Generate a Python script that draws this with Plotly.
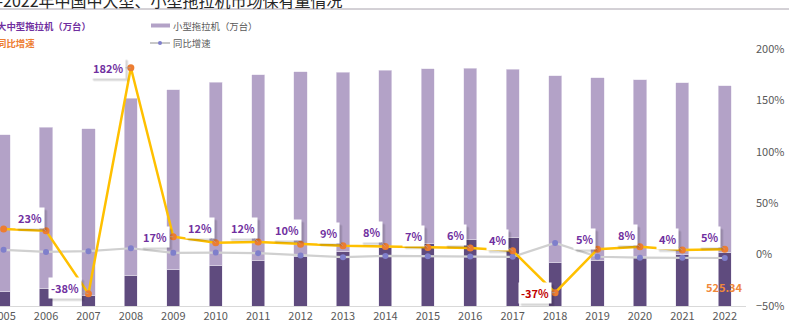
import plotly.graph_objects as go

years = [str(y) for y in range(2005, 2023)]
large_medium = [139.6, 171.8, 106.5, 300.4, 351.6, 392.4, 440.6, 485.2, 527.0,
                568.0, 607.3, 645.4, 670.1, 422.0, 443.9, 477.3, 498.1, 525.34]
small = [1524, 1567, 1617, 1721, 1750, 1786, 1808, 1795, 1748,
         1726, 1700, 1669, 1631, 1816, 1776, 1726, 1673, 1617]
growth_lm = [24.8, 23.1, -38.0, 181.7, 17.4, 11.6, 12.3, 10.1, 8.6,
             7.8, 6.9, 6.3, 3.8, -37.0, 5.2, 7.6, 4.4, 5.3]
growth_small = [4.6, 2.6, 3.3, 6.2, 1.7, 2.0, 1.4, -0.8, -2.5,
                -1.3, -1.5, -1.8, -2.2, 11.3, -2.1, -3.0, -3.0, -3.3]
# 2005 label lies outside the visible (cropped) area of the reference
growth_labels = [None, "23%", "-38%", "182%", "17%", "12%", "12%", "10%", "9%",
                 "8%", "7%", "6%", "4%", "-37%", "5%", "8%", "4%", "5%"]
label_dx = [0, -16, -23, -23, -18, -16, -15, -14, -14, -14, -14, -15, -15, -20, -13, -13, -15, -15]
label_dy = [0, -13, -6, 0, 0, -15, -14, -14, -13, -15, -12, -13, -11, 0, -10, -12, -11, -12]

FONT = "Noto Sans CJK SC, Noto Sans, sans-serif"
W, H = 789, 328
L, R, T, B = 0, 43, 49, 22
PW, PH = W - L - R, H - T - B


def px(xp):
    return (xp - L) / PW


def py(yp):
    return (H - B - yp) / PH


fig = go.Figure()
fig.add_trace(go.Bar(x=years, y=large_medium, name="大中型拖拉机（万台）",
                     marker=dict(color="#5F4B7E", line=dict(color="#E8E2EF", width=0.6)),
                     width=0.31, yaxis="y"))
fig.add_trace(go.Bar(x=years, y=small, name="小型拖拉机（万台）",
                     marker=dict(color="#B3A2C7", line=dict(color="#E8E2EF", width=0.6)),
                     width=0.31, yaxis="y"))
fig.add_trace(go.Scatter(x=years, y=growth_small, name="同比增速", mode="lines+markers",
                         line=dict(color="#D0D0D0", width=2.2),
                         marker=dict(color="#7F7FCB", size=6), yaxis="y2"))
fig.add_trace(go.Scatter(x=years, y=growth_lm, name="同比增速", mode="lines+markers",
                         line=dict(color="#FFC000", width=2.5),
                         marker=dict(color="#ED7D31", size=7), yaxis="y2"))

annotations = []
for i, (v, lab) in enumerate(zip(growth_lm, growth_labels)):
    if lab is None:
        continue
    color = "#C00000" if lab == "-37%" else "#7030A0"
    for off, alpha in ((3, 0.07), (2, 0.09)):
        annotations.append(dict(x=i, y=v, xref="x", yref="y2", text=lab,
                                showarrow=True, ax=label_dx[i] + off, ay=label_dy[i] + off,
                                arrowcolor="rgba(0,0,0,0)", arrowhead=0,
                                font=dict(family=FONT, size=11, color="rgba(0,0,0,0)", weight="bold"),
                                bgcolor=f"rgba(0,0,0,{alpha})", borderpad=2))
    annotations.append(dict(x=i, y=v, xref="x", yref="y2", text=lab,
                            showarrow=True, ax=label_dx[i], ay=label_dy[i],
                            arrowcolor="#A6A6A6", arrowhead=0, arrowwidth=0.7, standoff=0,
                            font=dict(family=FONT, size=11, color=color, weight="bold"),
                            bgcolor="white", borderpad=2))

annotations.append(dict(x=len(years) - 1, y=large_medium[-1], xref="x", yref="y",
                        text=f"{large_medium[-1]:.2f}", showarrow=False, yshift=-35,
                        font=dict(family=FONT, size=11, color="#F0883A", weight="bold")))

# title (cropped at left/top in the reference)
annotations.append(dict(xref="paper", yref="paper", x=px(345), y=py(0), xanchor="right",
                        yanchor="middle", showarrow=False,
                        text="2005-2022年中国中大型、小型拖拉机市场保有量情况",
                        font=dict(family=FONT, size=16, color="#262626")))
# legend texts
annotations.append(dict(xref="paper", yref="paper", x=px(93), y=py(25.5), xanchor="right",
                        yanchor="middle", showarrow=False, text="大中型拖拉机（万台）",
                        font=dict(family=FONT, size=9.4, color="#7030A0", weight="bold")))
annotations.append(dict(xref="paper", yref="paper", x=px(37), y=py(43), xanchor="right",
                        yanchor="middle", showarrow=False, text="同比增速",
                        font=dict(family=FONT, size=9.4, color="#ED7D31", weight="bold")))
annotations.append(dict(xref="paper", yref="paper", x=px(171), y=py(25.5), xanchor="left",
                        yanchor="middle", showarrow=False, text="小型拖拉机（万台）",
                        font=dict(family=FONT, size=9.4, color="#595959")))
annotations.append(dict(xref="paper", yref="paper", x=px(171), y=py(43), xanchor="left",
                        yanchor="middle", showarrow=False, text="同比增速",
                        font=dict(family=FONT, size=9.4, color="#595959")))

shapes = [
    dict(type="line", xref="paper", yref="paper", x0=px(0), x1=px(W), y0=py(9), y1=py(9),
         line=dict(color="#A8A2AC", width=1)),
    dict(type="rect", xref="paper", yref="paper", x0=px(151), x1=px(170), y0=py(23.5), y1=py(27.5),
         fillcolor="#B3A2C7", line=dict(width=0)),
    dict(type="line", xref="paper", yref="paper", x0=px(150), x1=px(170), y0=py(43), y1=py(43),
         line=dict(color="#C8C8C8", width=2)),
    dict(type="circle", xref="paper", yref="paper", x0=px(158), x1=px(162), y0=py(41), y1=py(45),
         fillcolor="#7F7FCB", line=dict(width=0)),
]

fig.update_layout(
    width=W, height=H, barmode="stack",
    margin=dict(l=L, r=R, t=T, b=B, autoexpand=False),
    paper_bgcolor="white", plot_bgcolor="white", showlegend=False,
    font=dict(family=FONT, color="#595959"),
    xaxis=dict(type="category", range=[-0.085, 17.5], showline=True, linecolor="#D9D9D9",
               linewidth=1, ticks="", showgrid=False, tickfont=dict(size=11, color="#595959")),
    yaxis=dict(range=[0, 2500], visible=False, showgrid=False),
    yaxis2=dict(range=[-50, 200], dtick=50, ticksuffix="%", overlaying="y", side="right",
                showgrid=False, zeroline=False, showline=False, ticklabelstandoff=9,
                tickfont=dict(size=11, color="#595959")),
    annotations=annotations, shapes=shapes,
)

fig.write_html("out.html")
